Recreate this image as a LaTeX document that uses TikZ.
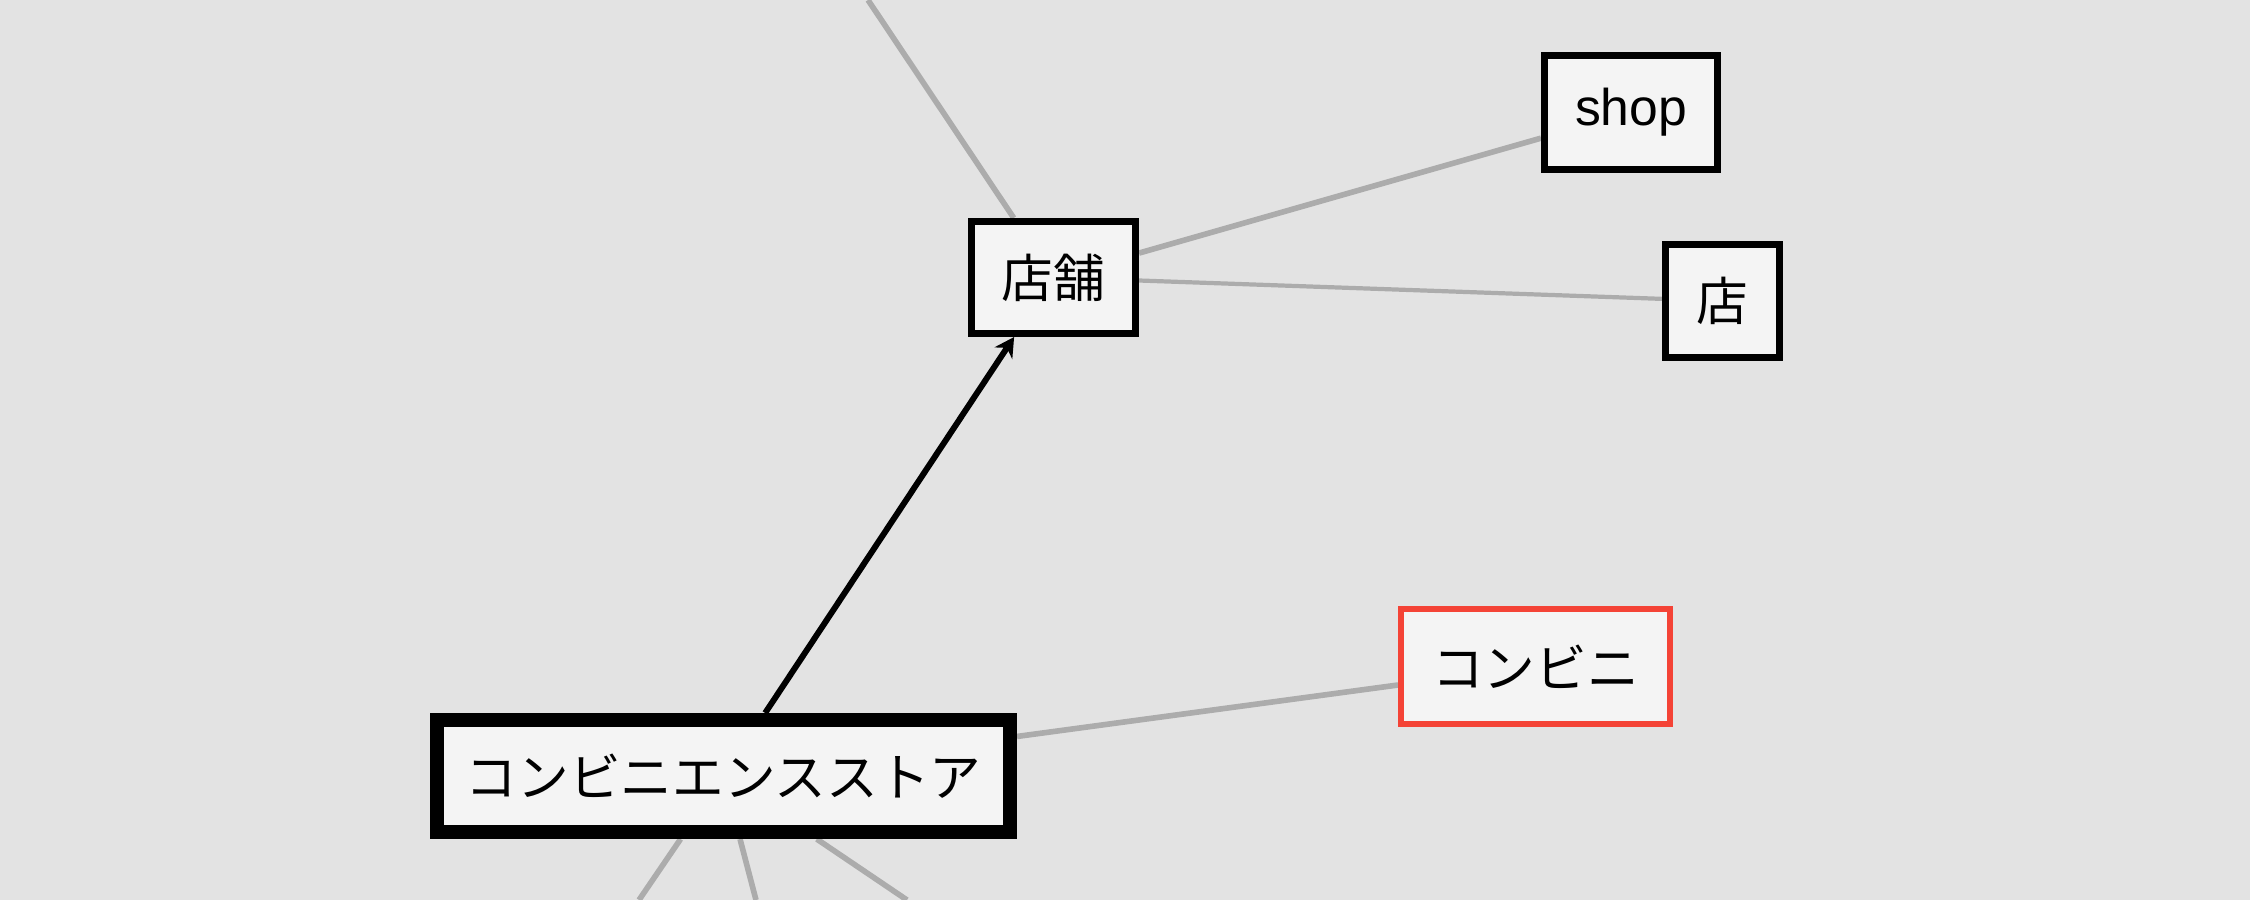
\documentclass[tikz,border=0pt]{standalone}
\usepackage{fontspec}
\setmainfont{Liberation Sans}
\newfontfamily\jpfont{Noto Sans CJK JP}
\usetikzlibrary{arrows.meta,backgrounds}
\definecolor{bgcol}{RGB}{227,227,227}
\definecolor{nodecol}{RGB}{244,244,244}
\definecolor{linkcol}{RGB}{172,172,172}
\definecolor{hilite}{RGB}{244,67,54}

\begin{document}
\begin{tikzpicture}[x=0.1mm,y=-0.1mm,>=Stealth,font=\fontsize{14.7pt}{17pt}\selectfont,
    term/.style={draw,line width=2pt,fill=nodecol,inner sep=0pt},
    link/.style={linkcol,line width=1.6pt}]
  \useasboundingbox (0,0) rectangle (2250,900);
  % the terms
  \node[term,line width=4pt,minimum width=57.3mm,minimum height=11.2mm] (store) at (723.5,776) {\jpfont コンビニエンスストア};
  \node[term,minimum width=16.4mm,minimum height=11.2mm] (tenpo) at (1053.5,277.5) {\jpfont 店舗};
  \node[term,minimum width=17.3mm,minimum height=11.4mm] (shop) at (1631,112.5) {shop};
  \node[term,minimum width=11.4mm,minimum height=11.3mm] (mise) at (1722.5,301) {\jpfont 店};
  \node[term,draw=hilite,line width=1.7pt,minimum width=26.9mm,minimum height=11.5mm] (konbini) at (1535.5,666.5) {\jpfont コンビニ};
  % loose ends running off the page
  \coordinate (up) at (868,0);
  \coordinate (downa) at (639,900);
  \coordinate (downb) at (756,900);
  \coordinate (downc) at (907,900);
  \begin{scope}[on background layer]
    \fill[bgcol] (0,0) rectangle (2250,900);
    \draw[link] (tenpo) -- (up);
    \draw[link] (tenpo) -- (shop);
    \draw[link,line width=1.2pt] (tenpo) -- (mise);
    \draw[link] (store) -- (konbini);
    \foreach \e in {downa,downb,downc}
      \draw[link] (store) -- (\e);
  \end{scope}
  % the one directed link
  \draw[line width=1.7pt,-{Stealth[length=5.5pt,width=6pt]}] (store) -- (tenpo);
\end{tikzpicture}
\end{document}
